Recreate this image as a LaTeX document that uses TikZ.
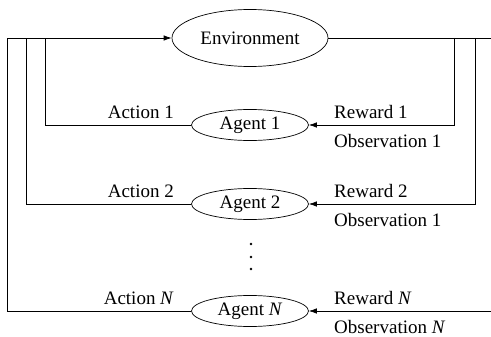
\documentclass[tikz,border=0pt]{standalone}
\usepackage{fontspec}
\setmainfont{Liberation Serif}
\usetikzlibrary{positioning,arrows.meta,shapes.geometric}

\begin{document}
\begin{tikzpicture}[x=1pt,y=-1pt,line width=0.7pt,
			>={Latex[length=8pt,width=5.5pt]},
			env node/.style={ellipse,draw,inner sep=0pt,minimum width=156pt,minimum height=57pt},
			agent node/.style={ellipse,draw,inner sep=0pt,minimum width=117pt,minimum height=31pt},
			label node/.style={inner sep=2pt},
			font=\fontsize{19}{21}\selectfont
			]
			\useasboundingbox (0,0) rectangle (491,337);
			
			\node[env node] at (250,38) (E) {Environment};
			\node[agent node] at (250,125) (A1) {Agent 1};
			\node[agent node] at (250,204) (A2) {Agent 2};
			\node[agent node] at (250,311) (AN) {Agent \textit{N}};
			
			% corners of the feedback lines
			\coordinate (L1) at (45,38);
			\coordinate (L2) at (26,38);
			\coordinate (LN) at (7,38);
			\coordinate (R0) at (491,38);
			\coordinate (R1) at (454,38);
			\coordinate (R2) at (475,38);
			\coordinate (RN) at (491,311);
			
			\foreach \a/\t/\o in {A1/1/1,A2/2/1,AN/\textit{N}/\textit{N}} {
				\node[label node,above left=4pt and 15pt of \a.west] (act\a) {Action \t};
				\node[label node,above right=4pt and 23pt of \a.east] (rew\a) {Reward \t};
				\node[label node,below right=7pt and 23pt of \a.east] (obs\a) {Observation \o};
			}
			
			\draw[->] (LN) -- (E.west);
			\draw (E.east) -- (R0);
			\draw (A1.west) -| (L1);
			\draw (A2.west) -| (L2);
			\draw (AN.west) -| (LN);
			\draw[->] (R1) |- (A1.east);
			\draw[->] (R2) |- (A2.east);
			\draw[->] (RN) -- (AN.east);
			
			\foreach \y in {244,257,269}
				\fill (251,\y) circle (1.4pt);
\end{tikzpicture}
\end{document}
